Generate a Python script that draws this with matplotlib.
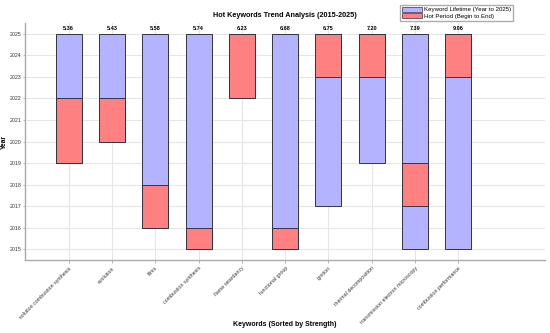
"""Hot keywords trend analysis: lifetime vs hot period per keyword."""

from matplotlib import pyplot as plt
from matplotlib.patches import Patch
import numpy as np

KEYWORDS = ["solution combustion synthesis", "evolution", "films",
            "combustion synthesis", "flame retardancy", "functional group",
            "ignition", "thermal decomposition",
            "transmission electron microscopy", "combustion performance"]
STRENGTH = [5.36, 5.43, 5.58, 5.74, 6.23, 6.68, 6.75, 7.20, 7.39, 9.06]
FIRST_YEAR = [2019, 2020, 2016, 2015, 2022, 2015, 2017, 2019, 2015, 2015]
HOT_BEGIN = [2019, 2020, 2016, 2015, 2022, 2015, 2023, 2023, 2017, 2023]
HOT_END = [2022, 2022, 2018, 2016, 2025, 2016, 2025, 2025, 2019, 2025]
END_YEAR = 2025

BLUE = "#b3b3ff"
RED = "#ff8080"
EDGE = "#333344"
BAR_WIDTH = 0.6

plt.rcParams["font.family"] = ["Liberation Sans", "DejaVu Sans"]

fig = plt.figure(figsize=(5.5, 3.33), dpi=100)
ax = fig.add_axes([0.046, 0.219, 0.945, 0.712])

x = np.arange(1, len(KEYWORDS) + 1)
first = np.array(FIRST_YEAR)
hb = np.array(HOT_BEGIN)
he = np.array(HOT_END)

ax.bar(x, END_YEAR - first, BAR_WIDTH, bottom=first, color=BLUE,
       edgecolor=EDGE, linewidth=0.7, zorder=2)
ax.bar(x, he - hb, BAR_WIDTH, bottom=hb, color=RED,
       edgecolor=EDGE, linewidth=0.7, zorder=3)

for xi, s in zip(x, STRENGTH):
    ax.text(xi, END_YEAR + 0.12, f"{s:.2f}", ha="center", va="bottom",
            fontsize=4, fontweight="bold")

ax.set_xlim(0, 12)
ax.set_ylim(2014.5, 2025.5)
ax.set_xticks(x)
ax.set_xticklabels(KEYWORDS, rotation=45, ha="right", rotation_mode="anchor",
                   fontsize=3.8, color="#333333")
ax.set_yticks(np.arange(2015, 2026))
ax.tick_params(axis="y", labelsize=3.8, labelcolor="#333333", length=1.5,
               width=0.5, color="#999999", pad=1)
ax.tick_params(axis="x", length=2, width=0.5, color="#999999", pad=2)

ax.grid(True, color="#e6e6e6", linewidth=0.8, zorder=0)
ax.set_axisbelow(True)
for side in ("top", "right"):
    ax.spines[side].set_visible(False)
for side in ("left", "bottom"):
    ax.spines[side].set_color("#aaaaaa")
    ax.spines[side].set_linewidth(1.0)

ax.set_title("Hot Keywords Trend Analysis (2015-2025)", fontsize=5.2,
             fontweight="bold", pad=4)
ax.set_ylabel("Year", fontsize=4.8, fontweight="bold")
ax.yaxis.set_label_coords(-0.034, 0.5)
ax.set_xlabel("Keywords (Sorted by Strength)", fontsize=5, fontweight="bold")
ax.xaxis.set_label_coords(0.5, -0.255)

handles = [Patch(facecolor=BLUE, edgecolor=EDGE, linewidth=0.5,
                 label="Keyword Lifetime (Year to 2025)"),
           Patch(facecolor=RED, edgecolor=EDGE, linewidth=0.5,
                 label="Hot Period (Begin to End)")]
fig.legend(handles=handles, loc="upper left", bbox_to_anchor=(0.722, 0.995),
           fontsize=4.4, frameon=True, edgecolor="#999999", fancybox=False,
           handlelength=3.2, handleheight=0.9, borderpad=0.3,
           labelspacing=0.15, handletextpad=0.4)

fig.savefig("out.png", dpi=100)
